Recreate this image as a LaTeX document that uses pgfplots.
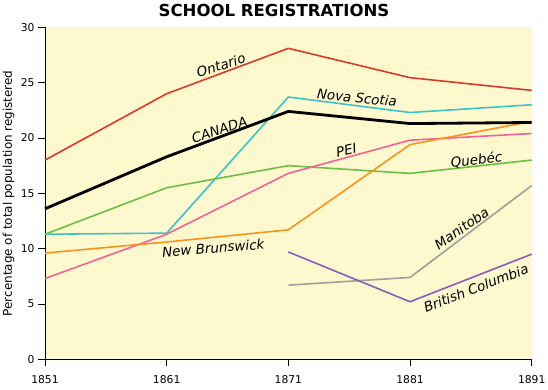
\documentclass[border=0pt]{standalone}
\usepackage{fontspec}
\setmainfont{DejaVu Sans}
\usepackage{pgfplots}
\pgfplotsset{compat=1.18}
\definecolor{bgy}{HTML}{FDF8CD}
\definecolor{cont}{HTML}{D93A2E}
\definecolor{cns}{HTML}{3CC3CA}
\definecolor{cpei}{HTML}{EE6496}
\definecolor{cque}{HTML}{6CBE45}
\definecolor{cnb}{HTML}{F7941D}
\definecolor{cman}{HTML}{A0A09A}
\definecolor{cbc}{HTML}{8A5CB8}
\tikzset{lbl/.style={font=\fontsize{13.5}{15}\selectfont\itshape, inner sep=0pt}}
\begin{document}
\begin{tikzpicture}
\begin{axis}[
  scale only axis, width=486.7bp, height=332bp,
  xmin=1851, xmax=1891, ymin=0, ymax=30,
  xtick={1851,1861,1871,1881,1891},
  ytick={0,5,10,15,20,25,30},
  axis lines*=left,
  x axis line style={-}, y axis line style={-},
  tick align=outside, major tick length=7bp,
  tick style={black, line width=0.6pt},
  axis line style={line width=0.8pt},
  /pgf/number format/assume math mode=true,
  xticklabel style={/pgf/number format/1000 sep={}, yshift=-6bp},
  ticklabel style={font=\fontsize{10.8}{12}\selectfont},
  axis background/.style={fill=bgy},
  ylabel={Percentage of total population registered},
  ylabel style={font=\fontsize{12}{14}\selectfont, at={(axis description cs:-0.075,0.5)}, anchor=center},
  title={\textbf{SCHOOL REGISTRATIONS}},
  title style={font=\fontsize{16.6}{19}\selectfont, at={(axis description cs:0.4705,1)}, anchor=base, yshift=4.5bp},
  clip=false,
  every axis plot/.append style={line width=1.6bp, line join=round},
]
\addplot[cont] coordinates {(1851,18.0)(1861,24.0)(1871,28.1)(1881,25.45)(1891,24.3)};
\addplot[cns] coordinates {(1851,11.3)(1861,11.4)(1871,23.7)(1881,22.3)(1891,23.0)};
\addplot[cque] coordinates {(1851,11.3)(1861,15.5)(1871,17.5)(1881,16.8)(1891,18.0)};
\addplot[cpei] coordinates {(1851,7.3)(1861,11.3)(1871,16.8)(1881,19.8)(1891,20.4)};
\addplot[cnb] coordinates {(1851,9.6)(1861,10.6)(1871,11.7)(1881,19.4)(1891,21.5)};
\addplot[cman] coordinates {(1871,6.7)(1881,7.4)(1891,15.7)};
\addplot[cbc] coordinates {(1871,9.7)(1881,5.2)(1891,9.5)};
\addplot[black, line width=2.8bp] coordinates {(1851,13.6)(1861,18.3)(1871,22.4)(1881,21.3)(1891,21.4)};
\node[lbl, rotate=17] at (axis cs:1865.46,26.59) {Ontario};
\node[lbl, rotate=-6] at (axis cs:1876.64,23.65) {Nova Scotia};
\node[lbl, rotate=18] at (axis cs:1865.34,20.76) {CANADA};
\node[lbl, rotate=13] at (axis cs:1875.77,18.91) {PEI};
\node[lbl, rotate=7] at (axis cs:1886.46,18.0) {Quebéc};
\node[lbl, rotate=4.6] at (axis cs:1864.83,10.05) {New Brunswick};
\node[lbl, rotate=35] at (axis cs:1885.24,11.83) {Manitoba};
\node[lbl, rotate=21] at (axis cs:1886.42,6.44) {British Columbia};
\coordinate (bl) at (rel axis cs:0,0);
\coordinate (tr) at (rel axis cs:1,1);
\end{axis}
\pgfresetboundingbox
\path ([shift={(-45bp,-29.7bp)}]bl) rectangle ([shift={(16.3bp,27.3bp)}]tr);
\end{tikzpicture}
\end{document}
